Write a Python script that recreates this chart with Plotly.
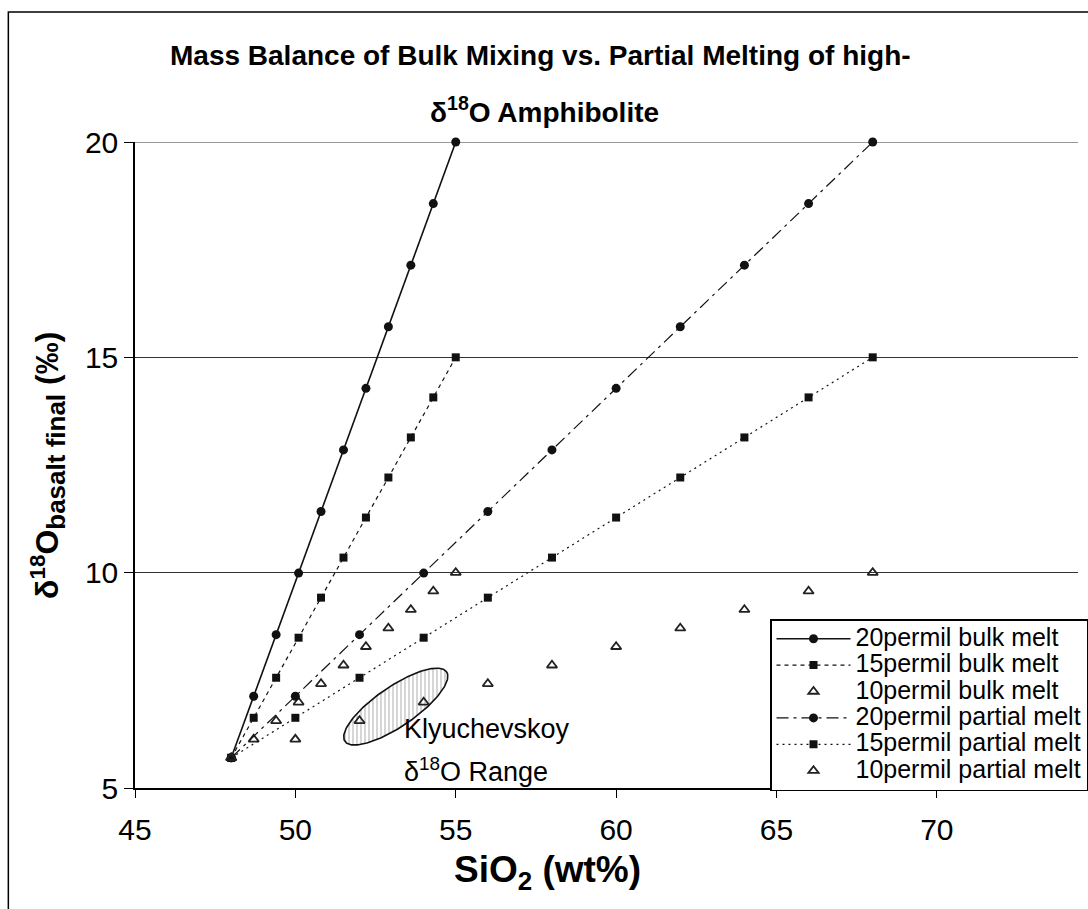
import numpy as np
import plotly.graph_objects as go

# SiO2 (wt%) of the mixed / melted basalt
sio2_bulk = [48.0, 48.7, 49.4, 50.1, 50.8, 51.5, 52.2, 52.9, 53.6, 54.3, 55.0]
sio2_partial = [48, 50, 52, 54, 56, 58, 60, 62, 64, 66, 68]

# final basalt d18O (permil) for each amphibolite end-member
d18o_20permil = [5.7, 7.13, 8.56, 9.99, 11.42, 12.85, 14.28, 15.71, 17.14, 18.57, 20.0]
d18o_15permil = [5.7, 6.63, 7.56, 8.49, 9.42, 10.35, 11.28, 12.21, 13.14, 14.07, 15.0]
d18o_10permil = [5.7, 6.13, 6.56, 6.99, 7.42, 7.85, 8.28, 8.71, 9.14, 9.57, 10.0]

series_names = [
    "20permil bulk melt", "15permil bulk melt", "10permil bulk melt",
    "20permil partial melt", "15permil partial melt", "10permil partial melt",
]

x_tick_vals = [45, 50, 55, 60, 65, 70]
y_tick_vals = [5, 10, 15, 20]

# Klyuchevskoy d18O field: centre (SiO2, d18O)
field_center = (53.13, 6.89)

# ---- page geometry ----
W, H = 1088, 909
M = dict(l=135, r=0, t=142, b=121)
X_RANGE = [45, 74.4]
Y_RANGE = [5, 20]
pw = W - M["l"] - M["r"]
ph = H - M["t"] - M["b"]
px_per_x = pw / (X_RANGE[1] - X_RANGE[0])
px_per_y = ph / (Y_RANGE[1] - Y_RANGE[0])


def paper_x(px):
    return (px - M["l"]) / pw


def paper_y(py):
    return (H - M["b"] - py) / ph


FONT = "Liberation Sans, Arial, sans-serif"
INK = "#111111"

circle = dict(symbol="circle", size=9, color=INK)
square = dict(symbol="square", size=8, color=INK)
triangle = dict(symbol="triangle-up-open", size=9, color="#222222", line=dict(width=1.8))

xs = [sio2_bulk, sio2_bulk, sio2_bulk, sio2_partial, sio2_partial, sio2_partial]
ys = [d18o_20permil, d18o_15permil, d18o_10permil, d18o_20permil, d18o_15permil, d18o_10permil]
styles = [
    dict(mode="lines+markers", line=dict(color=INK, width=1.6), marker=circle),
    dict(mode="lines+markers", line=dict(color=INK, width=1.2, dash="4px,4px"), marker=square),
    dict(mode="markers", marker=triangle),
    dict(mode="lines+markers", line=dict(color=INK, width=1.2, dash="12px,5px,3px,5px"), marker=circle),
    dict(mode="lines+markers", line=dict(color=INK, width=1.2, dash="2px,4px"), marker=square),
    dict(mode="markers", marker=triangle),
]

fig = go.Figure()

# hatched ellipse outlining the Klyuchevskoy range (tilted in screen space)
t = np.linspace(0, 2 * np.pi, 181)
a_px, b_px, ang = 62, 20, np.radians(34)
ell_x = field_center[0] + (a_px * np.cos(t) * np.cos(ang) - b_px * np.sin(t) * np.sin(ang)) / px_per_x
ell_y = field_center[1] + (a_px * np.cos(t) * np.sin(ang) + b_px * np.sin(t) * np.cos(ang)) / px_per_y
fig.add_trace(go.Scatter(
    x=ell_x, y=ell_y, mode="lines", fill="toself",
    line=dict(color=INK, width=1.6),
    fillcolor="white",
    fillpattern=dict(shape="|", fgcolor="#8a8a8a", bgcolor="white", size=4, solidity=0.35),
    showlegend=False, hoverinfo="skip",
))

for name, x, y, st in zip(series_names, xs, ys, styles):
    fig.add_trace(go.Scatter(
        x=x, y=y, name='<span style="font-size:25px">%s</span>' % name,
        cliponaxis=False, **st))

annotations = [
    dict(text="<b>Mass Balance of Bulk Mixing vs. Partial Melting of high-</b>",
         x=paper_x(545), y=paper_y(55), font=dict(size=28)),
    dict(text="<b>δ<sup>18</sup>O Amphibolite</b>",
         x=paper_x(549), y=paper_y(110), font=dict(size=28)),
    dict(text="<b>SiO<sub>2</sub> (wt%)</b>",
         x=paper_x(552), y=paper_y(872), font=dict(size=37)),
    dict(text='<b>δ<sup>18</sup>O<sub><span style="font-size:26px">basalt final</span></sub> (‰)</b>',
         x=paper_x(47), y=paper_y(465), textangle=-90, font=dict(size=32)),
]
for ann in annotations:
    ann.update(xref="paper", yref="paper", showarrow=False,
               xanchor="center", yanchor="middle")
    ann["font"].update(family=FONT, color="#000000")

# field label
annotations += [
    dict(text="Klyuchevskoy", x=53.33, y=6.36, xref="x", yref="y", showarrow=False,
         xanchor="left", yanchor="middle", font=dict(family=FONT, size=27, color="#000")),
    dict(text="δ<sup>18</sup>O Range", x=53.33, y=5.41, xref="x", yref="y", showarrow=False,
         xanchor="left", yanchor="middle", font=dict(family=FONT, size=27, color="#000")),
]

shapes = [
    # chart frame
    dict(type="rect", xref="paper", yref="paper",
         x0=paper_x(7), y0=paper_y(H + 20), x1=paper_x(W + 20), y1=paper_y(12),
         line=dict(color="#000", width=1.5), fillcolor="rgba(0,0,0,0)", layer="below"),
    # gridline along the top of the value axis
    dict(type="line", xref="paper", yref="y", x0=0, x1=1,
         y0=y_tick_vals[-1], y1=y_tick_vals[-1], line=dict(color="#333", width=1.2),
         layer="below"),
]

fig.update_layout(
    width=W, height=H, margin=M,
    paper_bgcolor="white", plot_bgcolor="white",
    font=dict(family=FONT, color="#000"),
    annotations=annotations,
    shapes=shapes,
    legend=dict(x=paper_x(777), y=paper_y(619), xanchor="left", yanchor="top",
                bgcolor="white", bordercolor="#000", borderwidth=1.5,
                font=dict(size=18, family=FONT), itemwidth=74, tracegroupgap=0),
    xaxis=dict(range=X_RANGE, tickvals=x_tick_vals, ticks="outside", ticklen=8,
               tickcolor="#000", showline=True, linecolor="#000", linewidth=1.5,
               showgrid=False, zeroline=False, tickfont=dict(size=30),
               ticklabelstandoff=6),
    yaxis=dict(range=Y_RANGE, tickvals=y_tick_vals, ticks="outside", ticklen=9,
               tickcolor="#000", showline=True, linecolor="#000", linewidth=1.5,
               showgrid=True, gridcolor="#333", gridwidth=1, zeroline=False,
               tickfont=dict(size=30)),
)

fig.write_html("out.html")
